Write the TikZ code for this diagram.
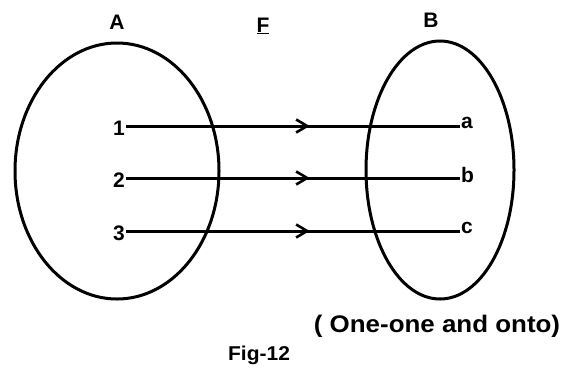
\documentclass[tikz,border=0pt]{standalone}
\usepackage{fontspec}
\setmainfont{Liberation Sans}
\usetikzlibrary{arrows.meta,decorations.markings}
\begin{document}
\begin{tikzpicture}[x=1pt,y=-1pt,
  lbl/.style={font=\fontsize{21}{23}\selectfont\bfseries, inner sep=1pt},
  setell/.style={draw, line width=3pt},
  mapline/.style={line width=3pt, postaction={decorate},
    decoration={markings, mark=at position 0.55 with {\arrow{Straight Barb[length=11pt,width=13pt,line width=2.6pt]}}}}]
\useasboundingbox (0,0) rectangle (572,373);
\fill[white] (0,0) rectangle (572,373);
\draw[setell] (117,171) ellipse [x radius=102, y radius=128];
\draw[setell] (440,170) ellipse [x radius=74, y radius=129];
\node[lbl] (A) at (117,22) {A};
\node[lbl] (F) at (263,26) {\underline{F}};
\node[lbl] (B) at (431,20) {B};
\node[lbl, anchor=east] (n1) at (126,128) {1};
\node[lbl, anchor=east] (n2) at (126,180) {2};
\node[lbl, anchor=east] (n3) at (126,233) {3};
\node[lbl, anchor=west] (a) at (460,123) {a};
\node[lbl, anchor=west] (b) at (460,175) {b};
\node[lbl, anchor=west] (c) at (460,228) {c};
\draw[mapline] (n1.east |- 0,126) -- (a.west |- 0,126);
\draw[mapline] (n2.east |- 0,178) -- (b.west |- 0,178);
\draw[mapline] (n3.east |- 0,231) -- (c.west |- 0,231);
\node[font=\fontsize{24}{27}\selectfont\bfseries, inner sep=0pt, xscale=1.08] (note) at (437,326) {( One-one and onto)};
\node[font=\fontsize{20}{22}\selectfont\bfseries, inner sep=0pt, xscale=1.05] (fig) at (259,355) {Fig-12};
\end{tikzpicture}
\end{document}
